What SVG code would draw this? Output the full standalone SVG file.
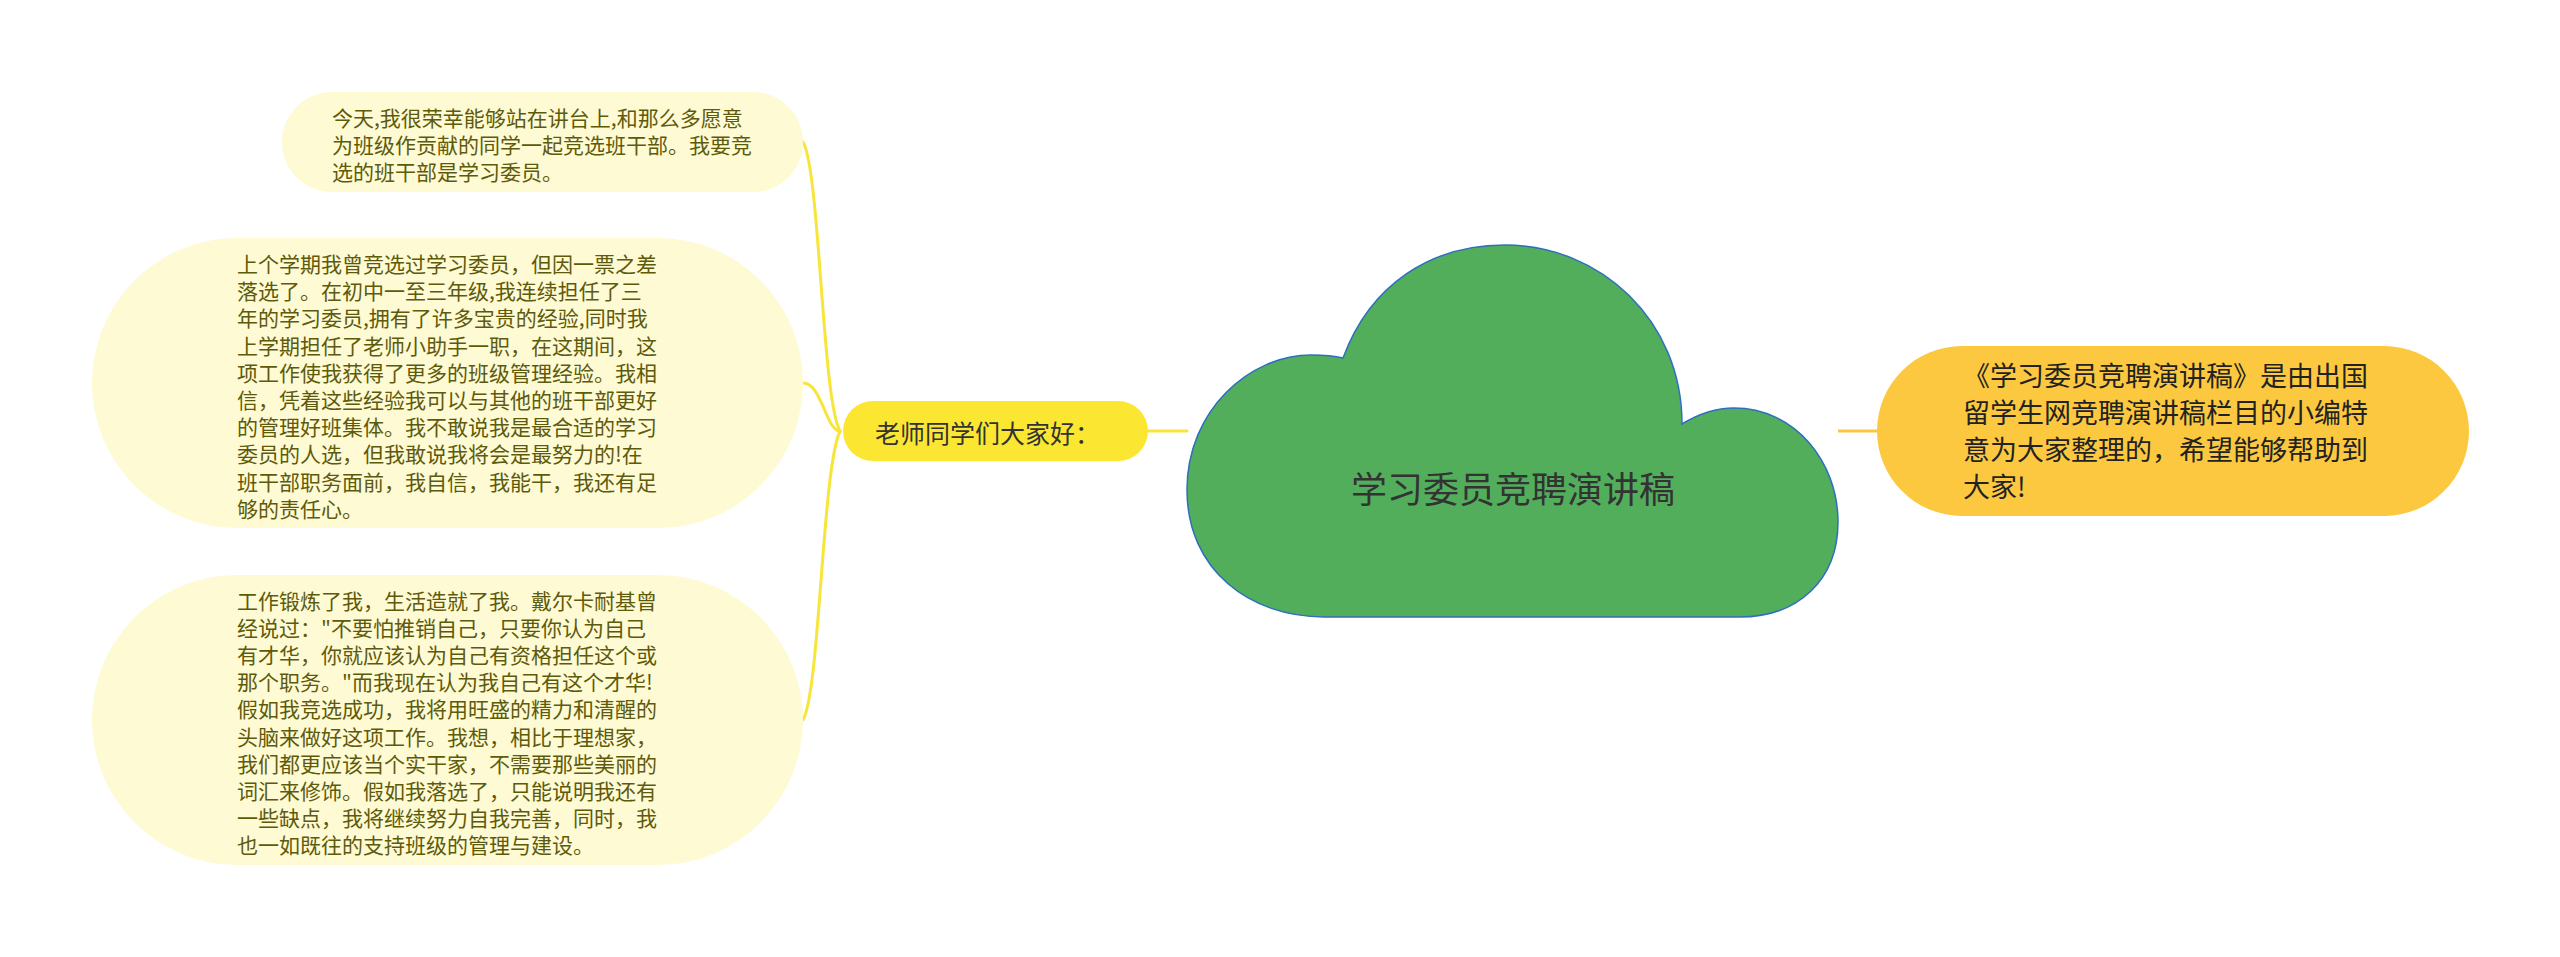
<svg xmlns="http://www.w3.org/2000/svg" width="2560" height="957" viewBox="0 0 2560 957">
<style>
.sub{fill:#fefad3;}
.subt{font-family:"Noto Sans CJK SC","Noto Sans",sans-serif;font-size:21px;fill:#5e5a0c;dominant-baseline:central;}
.lnk{fill:none;stroke:#f7e53a;stroke-width:3;stroke-linecap:round;}
</style>
<rect width="2560" height="957" fill="#ffffff"/>
<g id="connectors">
<path class="lnk" d="M840 431 C822 400,820 170,803 142"/>
<path class="lnk" d="M840 431 C826 431,822 383,803 383"/>
<path class="lnk" d="M840 431 C822 470,820 690,803 720"/>
<path class="lnk" d="M1148 431 L1187 431"/>
<path d="M1838 431 L1877 431" fill="none" stroke="#f9c642" stroke-width="3"/>
</g>
<g id="root">
<path d="M1343 358 C1370 285,1430 245,1505 245 C1600 245,1682 320,1682 424 C1700 413,1716 408,1734 408 C1795 408,1838 462,1838 522 C1838 580,1798 617,1740 617 L1324 617 C1250 617,1187 570,1187 490 C1187 410,1250 355,1311 355 C1325 355,1335 356,1343 358 Z" fill="#52ae5b" stroke="#2e6fbf" stroke-width="1.5"/>
<text x="1513" y="487" text-anchor="middle" dominant-baseline="central" font-family="&quot;Noto Sans CJK SC&quot;,sans-serif" font-size="36" fill="#333333">学习委员竞聘演讲稿</text>
</g>
<g id="hello">
<rect x="843" y="401" width="305" height="60" rx="30" fill="#fbe732"/>
<text x="875" y="432" dominant-baseline="central" font-family="&quot;Noto Sans CJK SC&quot;,sans-serif" font-size="25" fill="#333333">老师同学们大家好：</text>
</g>
<g id="intro">
<rect x="1877" y="346" width="592" height="170" rx="85" fill="#fcc83f"/>
<g font-family="&quot;Noto Sans CJK SC&quot;,sans-serif" font-size="27" fill="#222222" dominant-baseline="central">
<text x="1963" y="374">《学习委员竞聘演讲稿》是由出国</text>
<text x="1963" y="411">留学生网竞聘演讲稿栏目的小编特</text>
<text x="1963" y="448">意为大家整理的，希望能够帮助到</text>
<text x="1963" y="485">大家!</text>
</g>
</g>
<g id="para1">
<rect class="sub" x="282" y="92" width="521" height="100" rx="50"/>
<text class="subt" x="332" y="117">今天,我很荣幸能够站在讲台上,和那么多愿意</text>
<text class="subt" x="332" y="144">为班级作贡献的同学一起竞选班干部。我要竞</text>
<text class="subt" x="332" y="171">选的班干部是学习委员。</text>
</g>
<g id="para2">
<rect class="sub" x="92" y="238" width="711" height="290" rx="145"/>
<text class="subt" x="237" y="263">上个学期我曾竞选过学习委员，但因一票之差</text>
<text class="subt" x="237" y="290">落选了。在初中一至三年级,我连续担任了三</text>
<text class="subt" x="237" y="317">年的学习委员,拥有了许多宝贵的经验,同时我</text>
<text class="subt" x="237" y="345">上学期担任了老师小助手一职，在这期间，这</text>
<text class="subt" x="237" y="372">项工作使我获得了更多的班级管理经验。我相</text>
<text class="subt" x="237" y="399">信，凭着这些经验我可以与其他的班干部更好</text>
<text class="subt" x="237" y="426">的管理好班集体。我不敢说我是最合适的学习</text>
<text class="subt" x="237" y="453">委员的人选，但我敢说我将会是最努力的!在</text>
<text class="subt" x="237" y="481">班干部职务面前，我自信，我能干，我还有足</text>
<text class="subt" x="237" y="508">够的责任心。</text>
</g>
<g id="para3">
<rect class="sub" x="92" y="575" width="711" height="290" rx="145"/>
<text class="subt" x="237" y="600">工作锻炼了我，生活造就了我。戴尔卡耐基曾</text>
<text class="subt" x="237" y="627">经说过："不要怕推销自己，只要你认为自己</text>
<text class="subt" x="237" y="654">有才华，你就应该认为自己有资格担任这个或</text>
<text class="subt" x="237" y="681">那个职务。"而我现在认为我自己有这个才华!</text>
<text class="subt" x="237" y="708">假如我竞选成功，我将用旺盛的精力和清醒的</text>
<text class="subt" x="237" y="736">头脑来做好这项工作。我想，相比于理想家，</text>
<text class="subt" x="237" y="763">我们都更应该当个实干家，不需要那些美丽的</text>
<text class="subt" x="237" y="790">词汇来修饰。假如我落选了，只能说明我还有</text>
<text class="subt" x="237" y="817">一些缺点，我将继续努力自我完善，同时，我</text>
<text class="subt" x="237" y="844">也一如既往的支持班级的管理与建设。</text>
</g>
</svg>
